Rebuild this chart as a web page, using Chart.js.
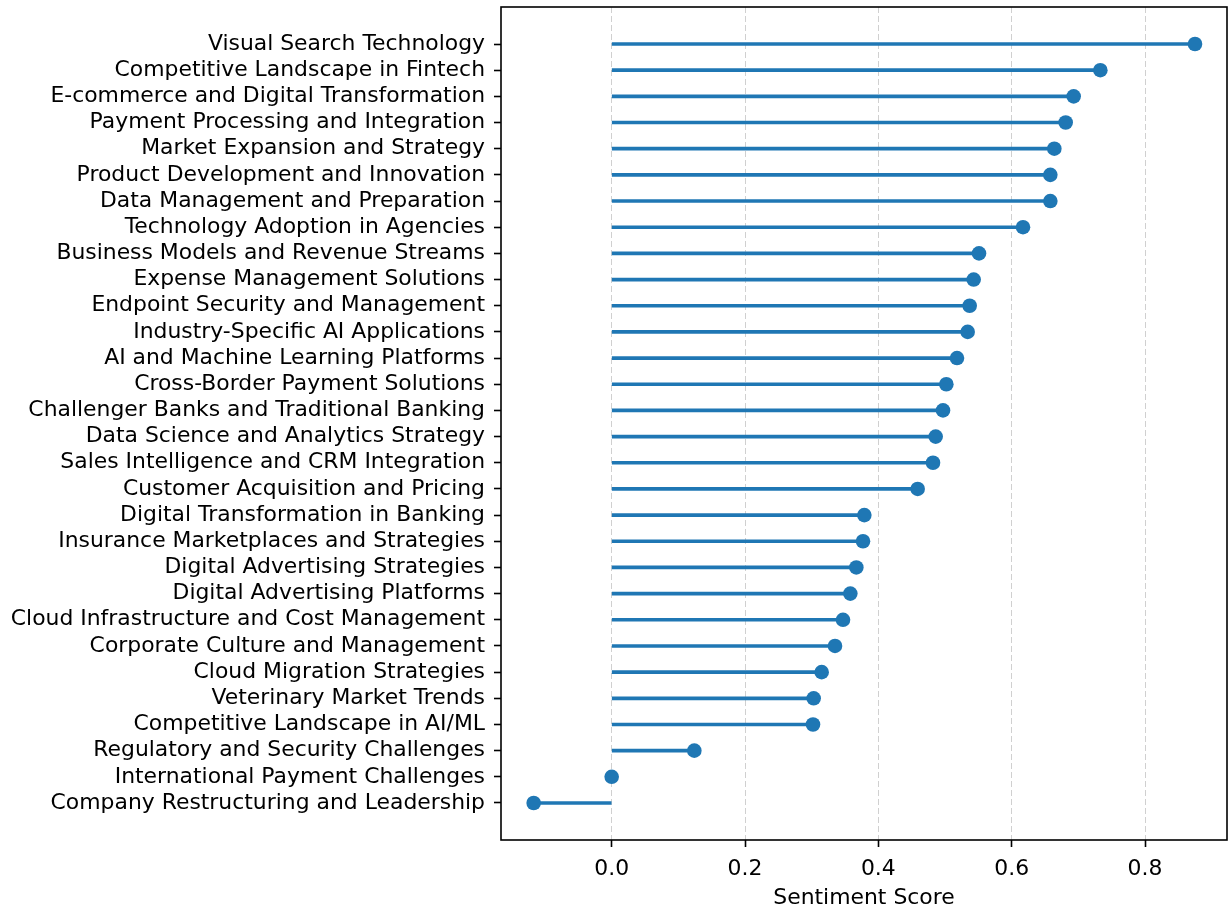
<!DOCTYPE html>
<html><head><meta charset="utf-8">
<script src="https://cdn.jsdelivr.net/npm/chart.js@4.4.1/dist/chart.umd.min.js"></script>
<style>html,body{margin:0;padding:0;background:#fff;overflow:hidden}</style>
</head><body>
<canvas id="c" width="1231" height="911"></canvas>
<script>
const categories = [
  "Visual Search Technology",
  "Competitive Landscape in Fintech",
  "E-commerce and Digital Transformation",
  "Payment Processing and Integration",
  "Market Expansion and Strategy",
  "Product Development and Innovation",
  "Data Management and Preparation",
  "Technology Adoption in Agencies",
  "Business Models and Revenue Streams",
  "Expense Management Solutions",
  "Endpoint Security and Management",
  "Industry-Specific AI Applications",
  "AI and Machine Learning Platforms",
  "Cross-Border Payment Solutions",
  "Challenger Banks and Traditional Banking",
  "Data Science and Analytics Strategy",
  "Sales Intelligence and CRM Integration",
  "Customer Acquisition and Pricing",
  "Digital Transformation in Banking",
  "Insurance Marketplaces and Strategies",
  "Digital Advertising Strategies",
  "Digital Advertising Platforms",
  "Cloud Infrastructure and Cost Management",
  "Corporate Culture and Management",
  "Cloud Migration Strategies",
  "Veterinary Market Trends",
  "Competitive Landscape in AI/ML",
  "Regulatory and Security Challenges",
  "International Payment Challenges",
  "Company Restructuring and Leadership"
];
const scores = [
  0.875, 0.733, 0.693, 0.681, 0.664, 0.658, 0.658, 0.617, 0.551, 0.543,
  0.537, 0.534, 0.518, 0.502, 0.497, 0.486, 0.482, 0.459, 0.379, 0.377,
  0.367, 0.358, 0.347, 0.335, 0.315, 0.303, 0.302, 0.124, 0.0, -0.117
];
const xTicks = [0.0, 0.2, 0.4, 0.6, 0.8];
const xTitle = "Sentiment Score";

const BLUE = '#1f77b4';
const FONT = {family: 'DejaVu Sans', size: 21.9};

const framePlugin = {
  id: 'frame',
  afterDraw(chart) {
    const {ctx, chartArea: a} = chart;
    ctx.save();
    ctx.strokeStyle = '#000';
    ctx.lineWidth = 1.6;
    ctx.strokeRect(a.left, a.top, a.right - a.left, a.bottom - a.top);
    ctx.restore();
  }
};

function zeroPad(s) {
  s.paddingTop = 0; s.paddingBottom = 0; s.paddingLeft = 0; s.paddingRight = 0;
}

new Chart(document.getElementById('c'), {
  type: 'bar',
  data: {
    datasets: [
      {
        type: 'scatter',
        data: scores.map((v, i) => ({x: v, y: i})),
        backgroundColor: BLUE,
        borderColor: BLUE,
        pointRadius: 7.3,
        pointBorderWidth: 0,
        order: 0
      },
      {
        type: 'bar',
        indexAxis: 'y',
        data: scores.map((v, i) => ({x: [0, v], y: i})),
        backgroundColor: BLUE,
        borderWidth: 0,
        barThickness: 3,
        order: 1
      }
    ]
  },
  options: {
    responsive: false,
    animation: false,
    layout: {autoPadding: false, padding: {left: 0, top: 7, right: 4, bottom: 0}},
    plugins: {legend: {display: false}, tooltip: {enabled: false}},
    scales: {
      x: {
        type: 'linear',
        offset: false,
        min: -0.166,
        max: 0.923,
        afterBuildTicks: s => { s.ticks = xTicks.map(v => ({value: v})); },
        afterFit: s => { s.height = 71; zeroPad(s); },
        ticks: {
          font: FONT, color: '#000', padding: 9,
          callback: v => v.toFixed(1),
          autoSkip: false, maxRotation: 0
        },
        grid: {
          display: true, drawOnChartArea: true, drawTicks: true, offset: false,
          color: '#d0d0d0', lineWidth: 1,
          tickColor: '#000', tickWidth: 1.6, tickLength: 7
        },
        border: {display: false, dash: [6, 3]},
        title: {display: true, text: xTitle, font: FONT, color: '#000', padding: {top: 0, bottom: 0}}
      },
      y: {
        type: 'linear',
        offset: false,
        reverse: true,
        min: -1.414,
        max: 30.414,
        afterBuildTicks: s => { s.ticks = categories.map((_, i) => ({value: i})); },
        afterFit: s => { s.width = 501; zeroPad(s); },
        ticks: {
          font: FONT, color: '#000', padding: 9,
          callback: v => categories[v],
          autoSkip: false
        },
        grid: {
          display: true, drawOnChartArea: false, drawTicks: true, offset: false,
          tickColor: '#000', tickWidth: 1.6, tickLength: 7
        },
        border: {display: false}
      }
    }
  },
  plugins: [framePlugin]
});
</script>
</body></html>
